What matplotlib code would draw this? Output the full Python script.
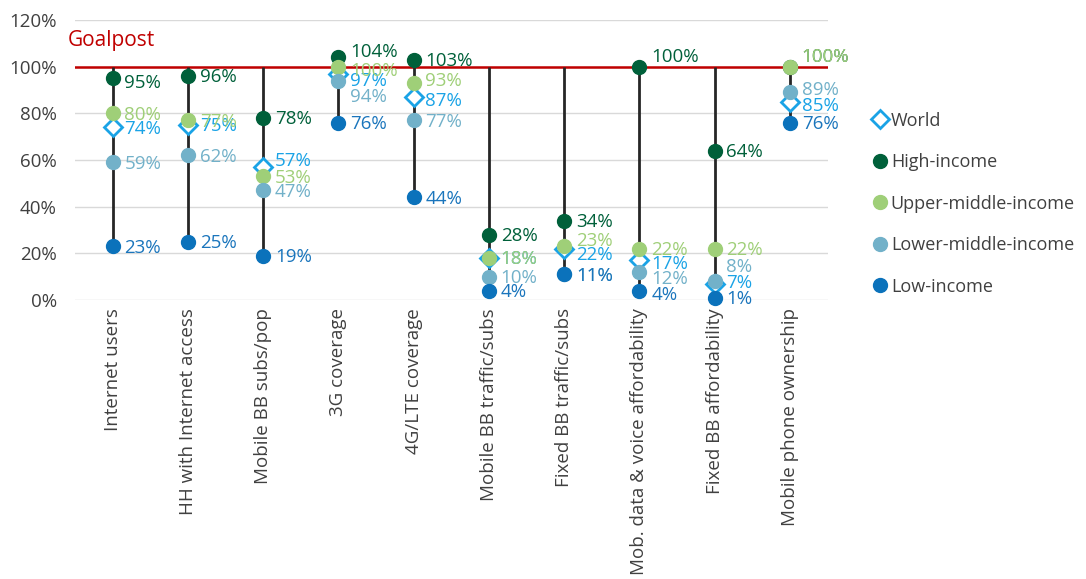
import numpy as np
import matplotlib
matplotlib.use('Agg')
import matplotlib.pyplot as plt

plt.rcParams['font.family'] = ['Open Sans', 'DejaVu Sans']

categories = ['Internet users', 'HH with Internet access', 'Mobile BB subs/pop',
              '3G coverage', '4G/LTE coverage', 'Mobile BB traffic/subs',
              'Fixed BB traffic/subs', 'Mob. data & voice affordability',
              'Fixed BB affordability', 'Mobile phone ownership']
world = [74, 75, 57, 97, 87, 18, 22, 17, 7, 85]
high_income = [95, 96, 78, 104, 103, 28, 34, 100, 64, 100]
upper_middle = [80, 77, 53, 100, 93, 18, 23, 22, 22, 100]
lower_middle = [59, 62, 47, 94, 77, 10, 11, 12, 8, 89]
low_income = [23, 25, 19, 76, 44, 4, 11, 4, 1, 76]
goalpost = 100

c_world = '#1aa3e6'
c_high = '#00603a'
c_um = '#9fcf78'
c_lm = '#72b1c9'
c_low = '#0b72bb'

# nudges (in % units) so crowded labels don't sit right on top of each other
nudge = {
    ('high', 0): -1.3,
    ('world', 2): 3,
    ('high', 3): 3, ('um', 3): -1.3, ('world', 3): -2.5, ('lm', 3): -6.5,
    ('um', 4): 1.3, ('world', 4): -1,
    ('um', 6): 3, ('world', 6): -2,
    ('high', 7): 4.7, ('world', 7): -1, ('lm', 7): -2.5, ('low', 7): -1.3,
    ('lm', 8): 6.5, ('world', 8): 1,
    ('high', 9): 4.7, ('um', 9): 4.7, ('lm', 9): 1.7, ('world', 9): -1.3,
}

fig = plt.figure(figsize=(10.86, 5.79), dpi=100)
ax = fig.add_axes([0.069, 0.482, 0.693, 0.4835])

x = np.arange(len(categories))
tops = np.maximum(goalpost, np.max([high_income, upper_middle, world], axis=0))
ax.vlines(x, low_income, tops, color='#262626', lw=2, zorder=2)
ax.axhline(goalpost, color='#c00000', lw=1.8, zorder=1)

ax.plot(x, world, 'D', ms=9, mfc='white', mec=c_world, mew=2, ls='none',
        label='World', zorder=3, clip_on=False)
ax.plot(x, high_income, 'o', ms=10, color=c_high, ls='none',
        label='High-income', zorder=4, clip_on=False)
ax.plot(x, upper_middle, 'o', ms=10, color=c_um, ls='none',
        label='Upper-middle-income', zorder=4, clip_on=False)
ax.plot(x, lower_middle, 'o', ms=10, color=c_lm, ls='none',
        label='Lower-middle-income', zorder=4, clip_on=False)
ax.plot(x, low_income, 'o', ms=10, color=c_low, ls='none',
        label='Low-income', zorder=4, clip_on=False)

label_sets = [('world', world, c_world), ('high', high_income, c_high),
              ('um', upper_middle, c_um), ('lm', lower_middle, c_lm),
              ('low', low_income, '#1a75bc')]
for key, vals, col in label_sets:
    for xi, v in zip(x, vals):
        ax.annotate(f'{v}%', (xi, v + nudge.get((key, xi), 0)), xytext=(8.5, -1),
                    textcoords='offset points', va='center', ha='left',
                    fontsize=13.5, color=col, zorder=5, annotation_clip=False)

ax.text(-0.6, 111, 'Goalpost', color='#c00000', fontsize=15, va='center', ha='left')

ax.set_xlim(-0.5, len(categories) - 0.5)
ax.set_ylim(0, 120)
ax.set_yticks(np.arange(0, 121, 20))
ax.set_yticklabels([f'{t}%' for t in range(0, 121, 20)])
ax.set_xticks(x)
ax.set_xticklabels(categories, rotation=90, va='top', ha='center', fontsize=13.5)
ax.tick_params(axis='both', length=0, colors='#404040')
ax.tick_params(axis='y', pad=13, labelsize=13.5)
ax.tick_params(axis='x', pad=6, labelsize=13.5)
ax.grid(axis='y', color='#d9d9d9', lw=1)
ax.set_axisbelow(True)
for s in ax.spines.values():
    s.set_visible(False)

fig.legend(loc='upper left', bbox_to_anchor=(0.787, 0.835), frameon=False,
           fontsize=13, labelspacing=1.3, handletextpad=0.1, handlelength=1.0,
           labelcolor='#404040')

plt.savefig('out.png', dpi=100)
